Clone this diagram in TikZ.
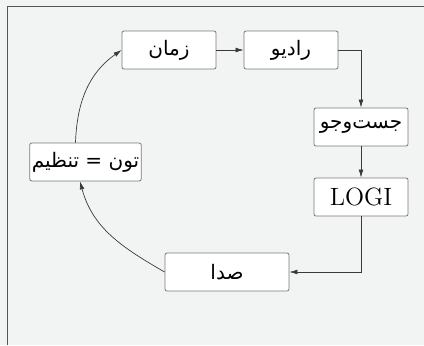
\documentclass[tikz,border=0pt]{standalone}
\usepackage{fontspec}
\usepackage{tikz}
\usetikzlibrary{arrows.meta,positioning}
\newfontfamily\arabicfont[Script=Arabic]{DejaVu Sans}
\TeXXeTstate=1
\definecolor{bgGray}{HTML}{F2F3F3}
\definecolor{boxGray}{HTML}{7A7A7A}
\definecolor{lineGray}{HTML}{3A3A3A}
\newcommand{\fa}[1]{{\arabicfont\beginR #1\endR}}

\begin{document}
\begin{tikzpicture}[x=0.5pt,y=-0.5pt,
  every node/.style={font=\fontsize{10}{12}\selectfont},
  Box/.style={draw=boxGray, fill=white, rounded corners=1pt, line width=0.4pt,
    minimum width=47pt, minimum height=19pt, inner sep=1pt},
  Link/.style={draw=lineGray, line width=0.35pt, -{Latex[length=4pt,width=2.4pt]}}]
  \fill[bgGray] (0,0) rectangle (424,345);
  \useasboundingbox (0,0) rectangle (424,345);
  \draw[boxGray!70!black, line width=0.5pt] (7,345) -- (7,6) -- (424,6);

  \node[Box] (zaman) at (169,50) {\fa{زمان}};
  \node[Box] (radio) at (291,50) {\fa{رادیو}};
  \node[Box] (jostoju) at (361,127) {\fa{جست^^^^200cوجو}};
  \node[Box, font=\fontsize{12.5}{14}\selectfont] (logi) at (361,197) {LOGI};
  \node[Box, minimum width=62pt] (seda) at (227,272) {\fa{صدا}};
  \node[Box, minimum width=55.5pt] (tune) at (85.5,162) {\fa{تون = تنظیم}};

  \draw[Link] (zaman) -- (radio);
  \draw[Link] (radio.east) -| (jostoju.north);
  \draw[Link] (jostoju) -- (logi);
  \draw[Link] (logi.south) |- (seda.east);
  \draw[Link] (seda.west) to[out=150,in=-75] ([xshift=-2.75pt]tune.south);
  \draw[Link] ([xshift=-5pt]tune.north) to[out=88,in=-145] (zaman.west);
\end{tikzpicture}
\end{document}
